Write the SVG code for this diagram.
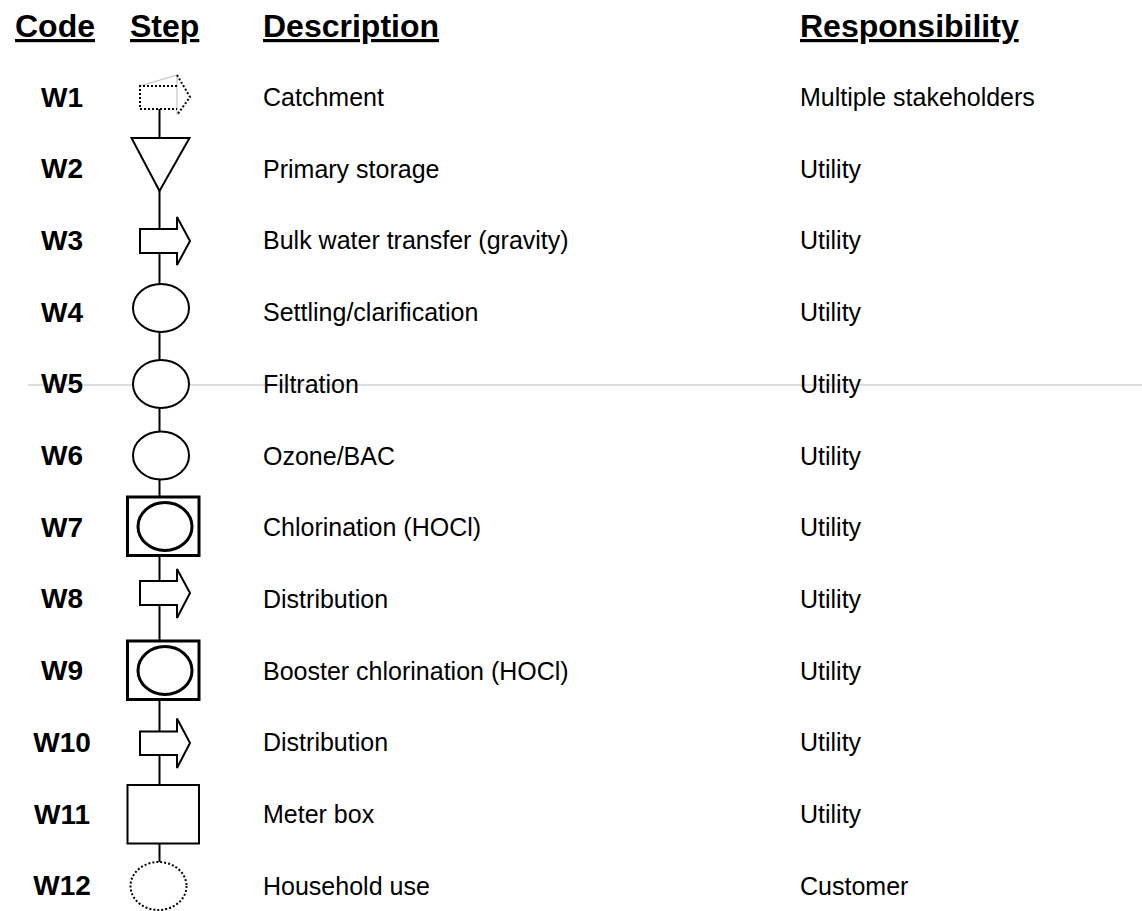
<svg xmlns="http://www.w3.org/2000/svg" width="1142" height="911" viewBox="0 0 1142 911">
<style>
.hd{font-family:"Liberation Sans",Arial,sans-serif;font-weight:bold;font-size:32px;text-decoration:underline;fill:#000}
.cd{font-family:"Liberation Sans",Arial,sans-serif;font-weight:bold;font-size:28px;text-anchor:middle;fill:#000}
.tx{font-family:"Liberation Sans",Arial,sans-serif;font-size:25px;fill:#000}
.sh{fill:#fff;stroke:#000;stroke-width:2}
.thk{fill:#fff;stroke:#000;stroke-width:3}
.dot{fill:#fff;stroke:#000;stroke-width:2;stroke-dasharray:2 2}
</style>
<rect width="1142" height="911" fill="#fff"/>
<line x1="28" y1="385" x2="1142" y2="385" stroke="#bbb" stroke-width="1.2"/>
<g id="headers">
<text class="hd" x="15" y="37">Code</text>
<text class="hd" x="130" y="37">Step</text>
<text class="hd" x="263" y="37">Description</text>
<text class="hd" x="800" y="37">Responsibility</text>
</g>
<g id="connectors">
<line x1="159.5" y1="109" x2="159.5" y2="862" stroke="#000" stroke-width="2"/>
</g>
<g id="W1">
<text class="cd" x="62" y="106.5">W1</text>
<line x1="140" y1="86" x2="177" y2="75" stroke="#bbb" stroke-width="1"/>
<line x1="177" y1="75" x2="177" y2="115" stroke="#bbb" stroke-width="1"/>
<polyline class="dot" points="177,86 140,86 140,109 177,109" style="fill:none"/>
<polyline class="dot" points="177,75 190,97 177,115" style="fill:none"/>
<text class="tx" x="263" y="106">Catchment</text>
<text class="tx" x="800" y="106">Multiple stakeholders</text>
</g>
<g id="W2">
<text class="cd" x="62" y="178.2">W2</text>
<polygon class="sh" points="131.5,138 189.5,138 159.5,191"/>
<text class="tx" x="263" y="177.7">Primary storage</text>
<text class="tx" x="800" y="177.7">Utility</text>
</g>
<g id="W3">
<text class="cd" x="62" y="249.9">W3</text>
<polygon class="sh" points="140,229 177,229 177,217 190,241 177,265 177,253 140,253"/>
<text class="tx" x="263" y="249.4">Bulk water transfer (gravity)</text>
<text class="tx" x="800" y="249.4">Utility</text>
</g>
<g id="W4">
<text class="cd" x="62" y="321.5">W4</text>
<ellipse class="sh" cx="161" cy="308" rx="28" ry="24"/>
<text class="tx" x="263" y="321">Settling/clarification</text>
<text class="tx" x="800" y="321">Utility</text>
</g>
<g id="W5">
<text class="cd" x="62" y="393.3">W5</text>
<ellipse class="sh" cx="161" cy="384" rx="28" ry="24"/>
<text class="tx" x="263" y="392.8">Filtration</text>
<text class="tx" x="800" y="392.8">Utility</text>
</g>
<g id="W6">
<text class="cd" x="62" y="465">W6</text>
<ellipse class="sh" cx="161" cy="455.5" rx="28" ry="24"/>
<text class="tx" x="263" y="464.5">Ozone/BAC</text>
<text class="tx" x="800" y="464.5">Utility</text>
</g>
<g id="W7">
<text class="cd" x="62" y="536.7">W7</text>
<rect class="thk" x="127.5" y="497" width="71.5" height="58.5"/>
<ellipse class="thk" cx="165" cy="526.5" rx="27" ry="24"/>
<text class="tx" x="263" y="536.2">Chlorination (HOCl)</text>
<text class="tx" x="800" y="536.2">Utility</text>
</g>
<g id="W8">
<text class="cd" x="62" y="608.4">W8</text>
<polygon class="sh" points="140,581 177,581 177,569 190,593 177,618 177,605 140,605"/>
<text class="tx" x="263" y="607.9">Distribution</text>
<text class="tx" x="800" y="607.9">Utility</text>
</g>
<g id="W9">
<text class="cd" x="62" y="680.1">W9</text>
<rect class="thk" x="127.5" y="641" width="71.5" height="58.5"/>
<ellipse class="thk" cx="165" cy="670.5" rx="27" ry="24"/>
<text class="tx" x="263" y="679.6">Booster chlorination (HOCl)</text>
<text class="tx" x="800" y="679.6">Utility</text>
</g>
<g id="W10">
<text class="cd" x="62" y="751.8">W10</text>
<polygon class="sh" points="140,731.5 177,731.5 177,718.5 190,743 177,768 177,755 140,755"/>
<text class="tx" x="263" y="751.3">Distribution</text>
<text class="tx" x="800" y="751.3">Utility</text>
</g>
<g id="W11">
<text class="cd" x="62" y="823.5">W11</text>
<rect class="sh" x="127.5" y="785" width="71.5" height="58.5"/>
<text class="tx" x="263" y="823">Meter box</text>
<text class="tx" x="800" y="823">Utility</text>
</g>
<g id="W12">
<text class="cd" x="62" y="895.2">W12</text>
<ellipse class="dot" cx="158.5" cy="886" rx="28" ry="24"/>
<text class="tx" x="263" y="894.7">Household use</text>
<text class="tx" x="800" y="894.7">Customer</text>
</g>
</svg>
